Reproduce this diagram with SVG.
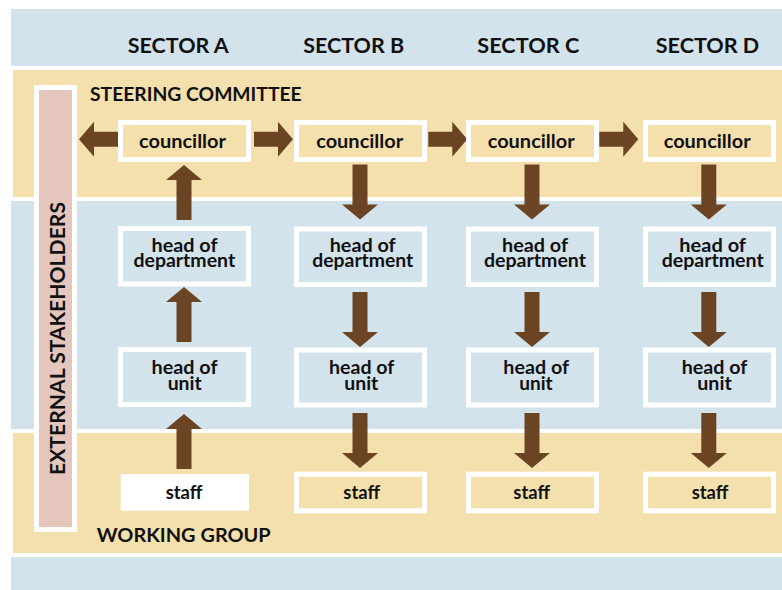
<svg xmlns="http://www.w3.org/2000/svg" width="782" height="590" viewBox="0 0 782 590">
<style>
  .blue{fill:#d3e3eb}
  .beige{fill:#f4e0ad;stroke:#ffffff;stroke-width:4}
  .box{stroke:#ffffff;stroke-width:5}
  .bb{fill:#f4e0ad}
  .bl{fill:#d3e3eb}
  text{font-family:Lato,"Liberation Sans",sans-serif;font-weight:700;fill:#111111}
  .hdr{font-size:20px;text-anchor:middle}
  .grp{font-size:19px}
  .lbl{font-size:19px;text-anchor:middle}
  .arrow{fill:#6b4423}
</style>
<defs>
  <polygon id="av" points="-7.5,0 7.5,0 7.5,40 18,40 0,55 -18,40 -7.5,40"/>
  <polygon id="ah" points="-7.5,0 7.5,0 7.5,24 17.5,24 0,39 -17.5,24 -7.5,24"/>
</defs>
<rect width="782" height="590" fill="#ffffff"/>
<g id="bands">
  <rect class="blue" x="11" y="9" width="771" height="581"/>
  <rect class="beige" x="11" y="68" width="773" height="131"/>
  <rect class="beige" x="11" y="431" width="773" height="124"/>
</g>
<g id="sector-headings">
  <text class="hdr" x="178.3" y="52.7" textLength="101" lengthAdjust="spacingAndGlyphs">SECTOR A</text>
  <text class="hdr" x="353.7" y="52.7" textLength="101" lengthAdjust="spacingAndGlyphs">SECTOR B</text>
  <text class="hdr" x="528.3" y="52.7" textLength="102" lengthAdjust="spacingAndGlyphs">SECTOR C</text>
  <text class="hdr" x="707.5" y="52.7" textLength="103.5" lengthAdjust="spacingAndGlyphs">SECTOR D</text>
</g>
<g id="group-labels">
  <text class="grp" x="90" y="101" textLength="211.7" lengthAdjust="spacingAndGlyphs">STEERING COMMITTEE</text>
  <text class="grp" x="96.7" y="541.7" textLength="174" lengthAdjust="spacingAndGlyphs">WORKING GROUP</text>
</g>
<g id="external-stakeholders">
  <rect x="36.5" y="87.5" width="38" height="442" fill="#e4c6bc" stroke="#ffffff" stroke-width="5"/>
  <text class="hdr" transform="translate(65,338.5) rotate(-90)" font-size="19" textLength="273" lengthAdjust="spacingAndGlyphs">EXTERNAL STAKEHOLDERS</text>
</g>
<g id="connectors" class="arrow">
  <use href="#ah" transform="translate(118,139.2) rotate(90)"/>
  <use href="#ah" transform="translate(254,139.2) rotate(-90)"/>
  <use href="#ah" transform="translate(428.3,139.2) rotate(-90)"/>
  <use href="#ah" transform="translate(599.3,139.2) rotate(-90)"/>
  <use href="#av" transform="translate(184,220) rotate(180)"/>
  <use href="#av" transform="translate(184,342) rotate(180)"/>
  <use href="#av" transform="translate(184,469) rotate(180)"/>
  <use href="#av" transform="translate(360,164.5)"/>
  <use href="#av" transform="translate(360,292)"/>
  <use href="#av" transform="translate(360,413)"/>
  <use href="#av" transform="translate(532,164.5)"/>
  <use href="#av" transform="translate(532,292)"/>
  <use href="#av" transform="translate(532,413)"/>
  <use href="#av" transform="translate(708.8,164.5)"/>
  <use href="#av" transform="translate(708.8,292)"/>
  <use href="#av" transform="translate(708.8,413)"/>
</g>
<g id="councillor-a"><rect class="box bb" x="120.5" y="122.5" width="128" height="37"/><text class="lbl" x="182.5" y="147.5" textLength="87" lengthAdjust="spacingAndGlyphs">councillor</text></g>
<g id="councillor-b"><rect class="box bb" x="296.5" y="122.5" width="128" height="37"/><text class="lbl" x="359.7" y="147.5" textLength="87" lengthAdjust="spacingAndGlyphs">councillor</text></g>
<g id="councillor-c"><rect class="box bb" x="468.5" y="122.5" width="128" height="37"/><text class="lbl" x="531.2" y="147.5" textLength="87" lengthAdjust="spacingAndGlyphs">councillor</text></g>
<g id="councillor-d"><rect class="box bb" x="645.5" y="122.5" width="128" height="37"/><text class="lbl" x="707.2" y="147.5" textLength="87" lengthAdjust="spacingAndGlyphs">councillor</text></g>

<g id="department-a"><rect class="box bl" x="120.5" y="228.5" width="128" height="55.5"/><text class="lbl" x="184.5" y="252" textLength="66" lengthAdjust="spacingAndGlyphs">head of</text><text class="lbl" x="184.3" y="267" textLength="101.7" lengthAdjust="spacingAndGlyphs">department</text></g>
<g id="department-b"><rect class="box bl" x="296.5" y="229" width="128" height="55.5"/><text class="lbl" x="362.7" y="252" textLength="66" lengthAdjust="spacingAndGlyphs">head of</text><text class="lbl" x="362.8" y="267" textLength="101" lengthAdjust="spacingAndGlyphs">department</text></g>
<g id="department-c"><rect class="box bl" x="468.5" y="229" width="128" height="55.5"/><text class="lbl" x="535" y="252" textLength="66" lengthAdjust="spacingAndGlyphs">head of</text><text class="lbl" x="535" y="267" textLength="102" lengthAdjust="spacingAndGlyphs">department</text></g>
<g id="department-d"><rect class="box bl" x="645.5" y="229" width="128" height="55.5"/><text class="lbl" x="712.7" y="252" textLength="66.7" lengthAdjust="spacingAndGlyphs">head of</text><text class="lbl" x="712.7" y="267" textLength="102" lengthAdjust="spacingAndGlyphs">department</text></g>

<g id="unit-a"><rect class="box bl" x="120.5" y="349.5" width="128" height="55"/><text class="lbl" x="184.5" y="374.3" textLength="66" lengthAdjust="spacingAndGlyphs">head of</text><text class="lbl" x="184.7" y="390" textLength="34" lengthAdjust="spacingAndGlyphs">unit</text></g>
<g id="unit-b"><rect class="box bl" x="296.5" y="350" width="128" height="55"/><text class="lbl" x="361.7" y="374.3" textLength="65.3" lengthAdjust="spacingAndGlyphs">head of</text><text class="lbl" x="361.3" y="390" textLength="34" lengthAdjust="spacingAndGlyphs">unit</text></g>
<g id="unit-c"><rect class="box bl" x="468.5" y="350" width="128" height="55"/><text class="lbl" x="536.2" y="374.3" textLength="65.7" lengthAdjust="spacingAndGlyphs">head of</text><text class="lbl" x="536" y="390" textLength="33.4" lengthAdjust="spacingAndGlyphs">unit</text></g>
<g id="unit-d"><rect class="box bl" x="645.5" y="350" width="128" height="55"/><text class="lbl" x="714.5" y="374.3" textLength="65.6" lengthAdjust="spacingAndGlyphs">head of</text><text class="lbl" x="714.5" y="390" textLength="34.4" lengthAdjust="spacingAndGlyphs">unit</text></g>

<g id="staff-a"><rect x="120.7" y="474" width="128.3" height="36.7" fill="#ffffff"/><text class="lbl" x="184" y="499" textLength="36.7" lengthAdjust="spacingAndGlyphs">staff</text></g>
<g id="staff-b"><rect class="box bb" x="296.5" y="474.2" width="128" height="36.6"/><text class="lbl" x="361.7" y="499.3" textLength="36.7" lengthAdjust="spacingAndGlyphs">staff</text></g>
<g id="staff-c"><rect class="box bb" x="468.5" y="474.2" width="128" height="36.6"/><text class="lbl" x="531.7" y="499.3" textLength="36.7" lengthAdjust="spacingAndGlyphs">staff</text></g>
<g id="staff-d"><rect class="box bb" x="645.5" y="474.2" width="128" height="36.6"/><text class="lbl" x="710" y="499.3" textLength="36.7" lengthAdjust="spacingAndGlyphs">staff</text></g>
</svg>
